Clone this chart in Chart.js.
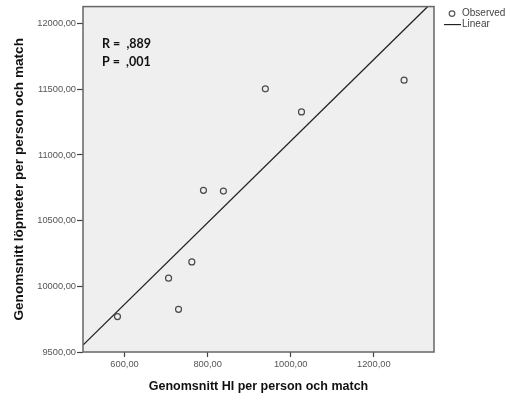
<!DOCTYPE html>
<html>
<head>
<meta charset="utf-8">
<script src="https://cdn.jsdelivr.net/npm/chart.js@4"></script>
<style>
  html, body { margin: 0; padding: 0; background: #fff; }
  #wrap { position: relative; width: 506px; height: 411px; }
</style>
</head>
<body>
<div id="wrap"><canvas id="scatterChart" width="506" height="411"></canvas></div>
<script>
// values
const hiValues = [583, 706, 730, 762, 790, 838, 939, 1026, 1273];
const lopValues = [9770, 10062, 9825, 10186, 10731, 10725, 11504, 11328, 11570];
const fitX = [500, 1330];
const fitY = [9553, 12130];
const xTickValues = [600, 800, 1000, 1200];
const yTickValues = [9500, 10000, 10500, 11000, 11500, 12000];
const statLines = ['R =  ,889', 'P =  ,001'];

const FONT = "'Liberation Sans', Arial, sans-serif";

function fmt(v) {
    return v.toFixed(2).replace('.', ',');
}

// grey plot box + frame
const plotBox = {
    id: 'plotBox',
    beforeDraw(chart) {
        const { ctx, chartArea: a } = chart;
        ctx.save();
        ctx.fillStyle = '#efefef';
        ctx.fillRect(a.left, a.top, a.right - a.left, a.bottom - a.top);
        ctx.restore();
    },
    afterDraw(chart) {
        const { ctx, chartArea: a } = chart;
        ctx.save();
        ctx.strokeStyle = '#666';
        ctx.lineWidth = 1.5;
        ctx.strokeRect(a.left, a.top, a.right - a.left, a.bottom - a.top);

        // R / P text
        ctx.fillStyle = '#111';
        ctx.font = "bold 12.5px Lato, 'Open Sans', sans-serif";
        ctx.textBaseline = 'middle';
        statLines.forEach((t, i) => ctx.fillText(t, a.left + 19, a.top + 37 + i * 18));

        // legend, to the right of the plot
        const lx = a.right + 10;
        ctx.font = '10px ' + FONT;
        ctx.fillStyle = '#444';
        ctx.strokeStyle = '#555';
        ctx.lineWidth = 1.2;
        ctx.beginPath();
        ctx.arc(lx + 8, a.top + 7, 2.8, 0, Math.PI * 2);
        ctx.stroke();
        ctx.fillText(chart.data.datasets[0].label, lx + 18, a.top + 7);
        ctx.strokeStyle = '#222';
        ctx.beginPath();
        ctx.moveTo(lx, a.top + 18);
        ctx.lineTo(lx + 17, a.top + 18);
        ctx.stroke();
        ctx.fillText(chart.data.datasets[1].label, lx + 18, a.top + 18);
        ctx.restore();
    }
};

const options = {
    type: 'scatter',
    data: {
        datasets: [{
            label: 'Observed',
            data: hiValues.map((x, i) => ({ x: x, y: lopValues[i] })),
            pointStyle: 'circle',
            pointRadius: 3,
            pointBorderWidth: 1.2,
            borderColor: '#4a4a4a',
            backgroundColor: 'rgba(0,0,0,0)',
            showLine: false
        }, {
            label: 'Linear',
            type: 'line',
            data: fitX.map((x, i) => ({ x: x, y: fitY[i] })),
            borderColor: '#222',
            borderWidth: 1.3,
            pointRadius: 0,
            fill: false
        }]
    },
    options: {
        responsive: false,
        animation: false,
        layout: { padding: { left: 7, right: 72, top: 5, bottom: 17 } },
        plugins: {
            legend: { display: false },
            tooltip: { enabled: false }
        },
        scales: {
            x: {
                type: 'linear',
                min: 500,
                max: 1345,
                afterBuildTicks: (s) => { s.ticks = xTickValues.map(v => ({ value: v })); },
                afterFit: (s) => { s.height = 42; },
                grid: { drawOnChartArea: false, tickLength: 5, color: '#444', tickWidth: 1.2 },
                border: { display: false },
                ticks: {
                    padding: 2,
                    color: '#555',
                    font: { family: FONT, size: 9.3 },
                    callback: (v) => fmt(v)
                },
                title: {
                    display: true,
                    text: 'Genomsnitt HI per person och match',
                    color: '#111',
                    font: { family: FONT, size: 12.5, weight: 'bold' },
                    padding: { top: 4, bottom: 0 }
                }
            },
            y: {
                type: 'linear',
                min: 9500,
                max: 12130,
                afterBuildTicks: (s) => { s.ticks = yTickValues.map(v => ({ value: v })); },
                afterFit: (s) => { s.width = 76; },
                grid: { drawOnChartArea: false, tickLength: 6, color: '#444', tickWidth: 1.2 },
                border: { display: false },
                ticks: {
                    padding: 1,
                    color: '#555',
                    font: { family: FONT, size: 9.3 },
                    callback: (v) => fmt(v)
                },
                title: {
                    display: true,
                    text: 'Genomsnitt löpmeter per person och match',
                    color: '#111',
                    font: { family: FONT, size: 13.6, weight: 'bold' },
                    padding: { top: 4, bottom: 4 }
                }
            }
        }
    },
    plugins: [plotBox]
};

const ctx = document.getElementById('scatterChart').getContext('2d');
window.chart = new Chart(ctx, options);
</script>
</body>
</html>
